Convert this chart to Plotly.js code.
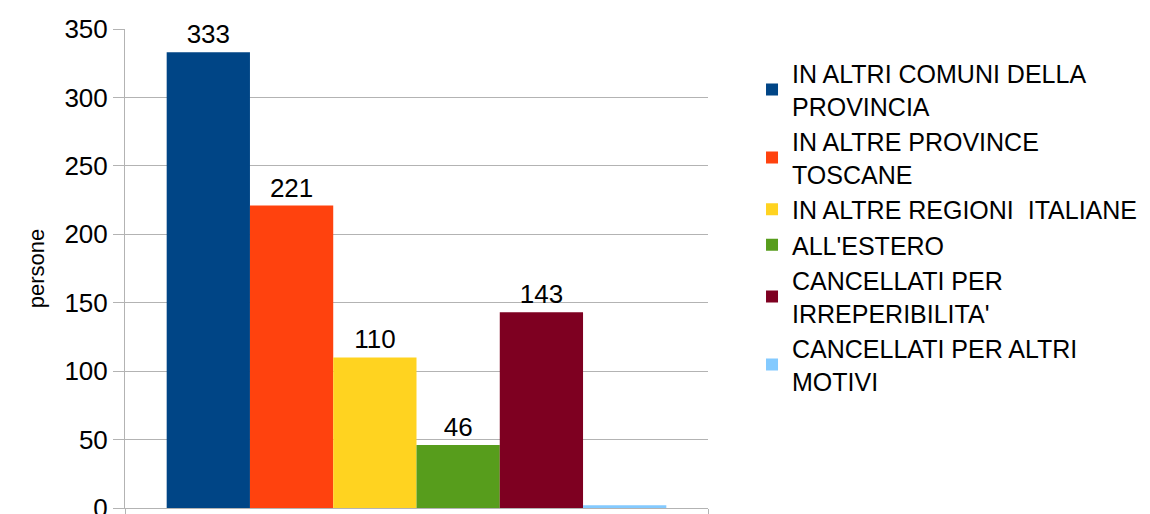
<!DOCTYPE html>
<html>
<head>
<meta charset="utf-8">
<script src="https://cdn.plot.ly/plotly-3.0.1.min.js"></script>
<style>html,body{margin:0;padding:0;background:#fff;}#chart{width:1150px;height:514px;}</style>
</head>
<body>
<div id="chart"></div>
<script>
const seriesNames = [
  "IN ALTRI COMUNI DELLA<br>PROVINCIA",
  "IN ALTRE PROVINCE<br>TOSCANE",
  "IN ALTRE REGIONI  ITALIANE",
  "ALL'ESTERO",
  "CANCELLATI PER<br>IRREPERIBILITA'",
  "CANCELLATI PER ALTRI<br>MOTIVI"
];
const seriesValues = [333, 221, 110, 46, 143, 2];
const showValueLabel = [true, true, true, true, true, false];
const seriesColors = ["#004586", "#ff420e", "#ffd320", "#579d1c", "#7e0021", "#83caff"];
const category = ["persone"];
const yTicks = [0, 50, 100, 150, 200, 250, 300, 350];

const traces = seriesNames.map((name, i) => ({
  type: "bar",
  name: name,
  x: category,
  y: [seriesValues[i]],
  marker: {color: seriesColors[i], line: {width: 0}},
  text: showValueLabel[i] ? [String(seriesValues[i])] : [""],
  textposition: "outside",
  textfont: {family: "Liberation Sans, Arial, sans-serif", size: 26, color: "#000"},
  cliponaxis: false,
  hoverinfo: "none"
}));

const layout = {
  width: 1150, height: 514,
  margin: {l: 125, r: 442, t: 29, b: 6},
  paper_bgcolor: "#fff", plot_bgcolor: "#fff",
  font: {family: "Liberation Sans, Arial, sans-serif", color: "#000"},
  barmode: "group",
  bargap: 0.143,
  bargroupgap: 0,
  showlegend: true,
  legend: {
    x: 1.0755, y: 0.955, xanchor: "left", yanchor: "top",
    font: {size: 25, color: "#000"},
    traceorder: "normal",
    itemclick: false
  },
  xaxis: {
    type: "category",
    tickson: "boundaries",
    showticklabels: false,
    ticks: "outside", ticklen: 6, tickcolor: "#b3b3b3",
    showgrid: true, gridcolor: "#b3b3b3",
    showline: true, linecolor: "#b3b3b3", linewidth: 1,
    zeroline: false,
    fixedrange: true
  },
  yaxis: {
    range: [0, 350],
    tickvals: yTicks,
    ticks: "outside", ticklen: 11, tickcolor: "#b3b3b3",
    tickfont: {size: 26, color: "#000"},
    ticklabeloverflow: "allow",
    showgrid: true, gridcolor: "#b3b3b3",
    showline: true, linecolor: "#b3b3b3",
    zeroline: false,
    title: {text: "persone", font: {size: 22, color: "#000"}, standoff: 13},
    fixedrange: true
  }
};

Plotly.newPlot("chart", traces, layout, {displayModeBar: false, staticPlot: true});
</script>
</body>
</html>
